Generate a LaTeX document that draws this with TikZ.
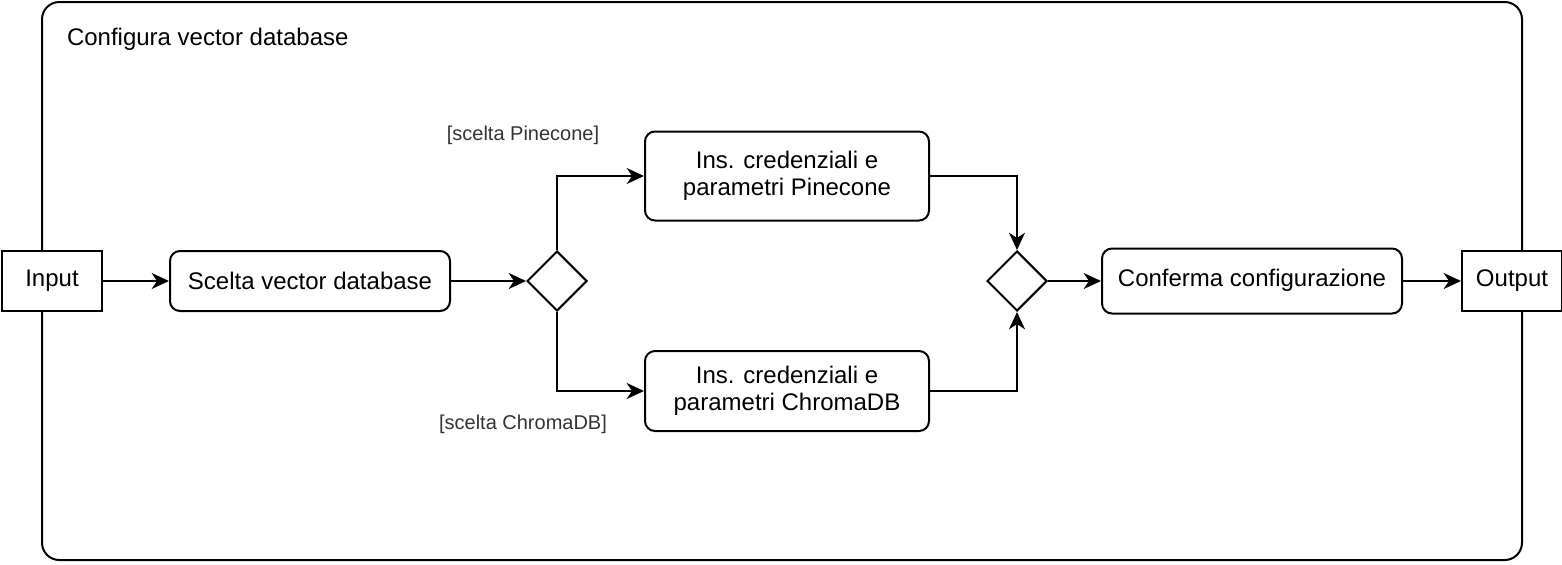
\documentclass[tikz,border=0pt]{standalone}
\usepackage{fontspec}
\setmainfont{Liberation Sans}
\usepackage{tikz}
\usetikzlibrary{calc,shapes.geometric,arrows.meta}

\begin{document}
\begin{tikzpicture}[x=0.75pt,y=-0.75pt,line width=1.5pt,
  every node/.style={font=\fontsize{18}{20}\selectfont,align=center,inner sep=0pt},
  pin/.style={draw,fill=white,minimum width=75pt,minimum height=45pt},
  act/.style={draw,fill=white,rounded corners=7.5pt,minimum width=213pt},
  gate/.style={draw,fill=white,diamond,minimum width=45pt,minimum height=45pt},
  guard/.style={font=\fontsize{15}{18}\selectfont,text={rgb,255:red,51;green,51;blue,51}},
  flow/.style={-{Stealth[length=13pt,width=12pt,inset=4pt]}}]
\useasboundingbox (0,0) rectangle (1562,564);
\draw[rounded corners=13pt] (42,2) rectangle (1522,560);
\node[anchor=west] (title) at (66,39) {Configura vector database};

\node[pin] (input) at (52,281) {Input};
\node[act,minimum width=210pt,minimum height=45pt] (scelta) at (310,281) {Scelta vector database};
\node[gate] (split) at (557,281) {};
\node[act,minimum height=66.75pt] (pine) at (787,176) {Ins. credenziali e\\parametri Pinecone};
\node[act,minimum height=60pt] (chroma) at (787,391) {Ins. credenziali e\\parametri ChromaDB};
\node[gate] (merge) at (1017,281) {};
\node[act,minimum width=225pt,minimum height=48.75pt,text depth=5pt] (conf) at (1252,281) {Conferma configurazione};
\node[pin] (output) at (1512,281) {Output};

\node[guard] (gpine) at (523,135) {[scelta Pinecone]};
\node[guard] (gchroma) at (523,424) {[scelta ChromaDB]};

\draw[flow] (input) -- (scelta);
\draw[flow] (scelta) -- (split);
\draw[flow] (split.north) |- (pine.west);
\draw[flow] (split.south) |- (chroma.west);
\draw[flow] (pine.east) -| (merge.north);
\draw[flow] (chroma.east) -| (merge.south);
\draw[flow] (merge) -- (conf);
\draw[flow] (conf) -- (output);
\end{tikzpicture}
\end{document}
